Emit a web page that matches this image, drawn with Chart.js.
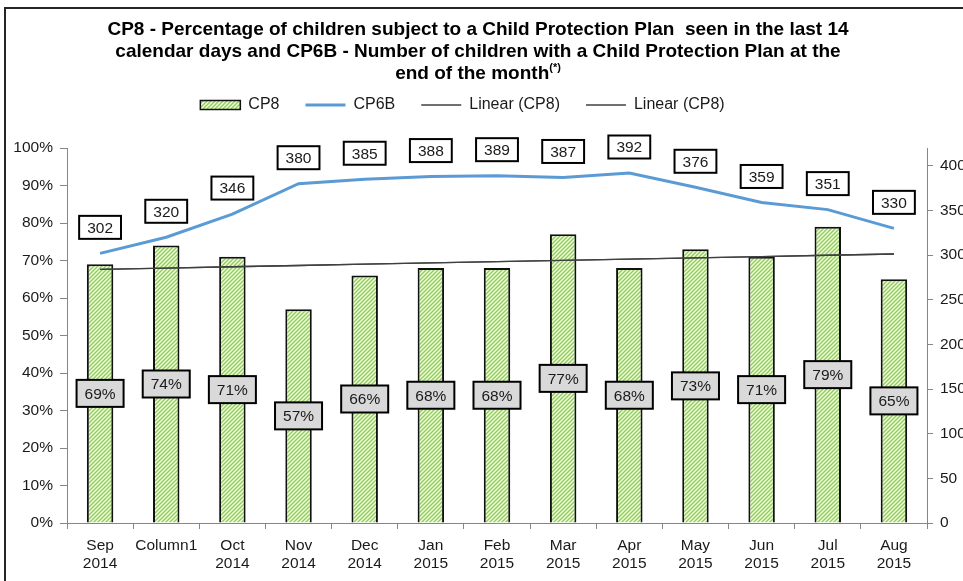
<!DOCTYPE html>
<html>
<head>
<meta charset="utf-8">
<title>CP8 / CP6B</title>
<script src="https://cdn.jsdelivr.net/npm/chart.js@4.4.1/dist/chart.umd.min.js"></script>
<style>
  html, body { margin: 0; padding: 0; background: #fff; }
  #wrap { width: 963px; height: 581px; }
</style>
</head>
<body>
<div id="wrap"><canvas id="chart" width="963" height="581"></canvas></div>
<script>
// ── Data ──────────────────────────────────────────────────────────────────────

const TITLE_LINES = [
  "CP8 - Percentage of children subject to a Child Protection Plan  seen in the last 14",
  "calendar days and CP6B - Number of children with a Child Protection Plan at the",
  "end of the month",
];
const TITLE_NOTE = "(*)";

// "Column1" is a stray header that ended up as a category in the sheet
const MONTHS = [
  ["Sep", "2014"], "Column1", ["Oct", "2014"], ["Nov", "2014"], ["Dec", "2014"],
  ["Jan", "2015"], ["Feb", "2015"], ["Mar", "2015"], ["Apr", "2015"],
  ["May", "2015"], ["Jun", "2015"], ["Jul", "2015"], ["Aug", "2015"],
];

// CP8: % seen in the last 14 days (left axis)
const CP8 = [69, 74, 71, 57, 66, 68, 68, 77, 68, 73, 71, 79, 65];

// CP6B: number of children on a plan at month end (right axis)
const CP6B = [302, 320, 346, 380, 385, 388, 389, 387, 392, 376, 359, 351, 330];

const PCT_AXIS   = { min: 0, max: 100, step: 10 };
const COUNT_AXIS = { min: 0, max: 420, step: 50 };

const FONT = '"Liberation Sans", Arial, sans-serif';
const TEXT = "#1a1a1a";
const AXIS = "#868686";


// ── Helpers ───────────────────────────────────────────────────────────────────

// Green diagonal hatch used for the CP8 columns
function hatch() {
  const c = document.createElement("canvas");
  c.width = c.height = 4;
  const g = c.getContext("2d");
  g.fillStyle = "#f4fbec";
  g.fillRect(0, 0, 4, 4);
  g.strokeStyle = "#8fcf4f";
  g.lineWidth = 1.4;
  g.beginPath();
  g.moveTo(0, 4);  g.lineTo(4, 0);
  g.moveTo(-1, 1); g.lineTo(1, -1);
  g.moveTo(3, 5);  g.lineTo(5, 3);
  g.stroke();
  return g.createPattern(c, "repeat");
}

// Least-squares straight line through the series (Excel "Linear" trendline)
function linearTrend(ys) {
  const n = ys.length;
  const mx = (n - 1) / 2;
  const my = ys.reduce((a, b) => a + b, 0) / n;
  let sxy = 0, sxx = 0;
  ys.forEach((y, i) => { sxy += (i - mx) * (y - my); sxx += (i - mx) ** 2; });
  const slope = sxy / sxx;
  return ys.map((_, i) => my + slope * (i - mx));
}

function labelBox(ctx, x, y, text, fill, h) {
  const w = ctx.measureText(text).width + 16;
  ctx.fillStyle = fill;
  ctx.fillRect(x - w / 2, y - h / 2, w, h);
  ctx.lineWidth = 2;
  ctx.strokeStyle = "#000";
  ctx.strokeRect(x - w / 2, y - h / 2, w, h);
  ctx.fillStyle = TEXT;
  ctx.fillText(text, x, y + 1);
}


// ── Plugins ───────────────────────────────────────────────────────────────────

// White page, frame, and the three-line title with its superscript note
const frame = {
  id: "frame",
  beforeDraw(chart) {
    const ctx = chart.ctx;
    ctx.save();
    ctx.fillStyle = "#fff";
    ctx.fillRect(0, 0, chart.width, chart.height);
    ctx.lineWidth = 2;
    ctx.strokeStyle = "#262626";
    ctx.strokeRect(5, 8, chart.width + 20, chart.height + 20);
    ctx.restore();
  },
  afterDraw(chart) {
    const ctx = chart.ctx;
    const cx = 478;
    ctx.save();
    ctx.fillStyle = "#000";
    ctx.textBaseline = "middle";
    ctx.font = "bold 19px " + FONT;
    ctx.textAlign = "center";
    ctx.fillText(TITLE_LINES[0], cx, 30);
    ctx.fillText(TITLE_LINES[1], cx, 52);

    const w = ctx.measureText(TITLE_LINES[2]).width;
    ctx.font = "bold 11px " + FONT;
    const wn = ctx.measureText(TITLE_NOTE).width;
    const x0 = cx - (w + wn) / 2;
    ctx.textAlign = "left";
    ctx.font = "bold 19px " + FONT;
    ctx.fillText(TITLE_LINES[2], x0, 74);
    ctx.font = "bold 11px " + FONT;
    ctx.fillText(TITLE_NOTE, x0 + w, 68);
    ctx.restore();
  },
};

// Legend spacing: extra room under the legend, and nudge it a bit left
const legendSpacing = {
  id: "legendSpacing",
  beforeInit(chart) {
    const fit = chart.legend.fit;
    chart.legend.fit = function () {
      fit.call(this);
      this.height += 25;
    };
  },
  afterLayout(chart) {
    chart.legend.left -= 19;
    chart.legend.right -= 19;
  },
};

// Boxed value labels: grey in the middle of each column, white above the line
const valueBoxes = {
  id: "valueBoxes",
  afterDatasetsDraw(chart) {
    const ctx = chart.ctx;
    ctx.save();
    ctx.font = "15.5px " + FONT;
    ctx.textAlign = "center";
    ctx.textBaseline = "middle";
    chart.getDatasetMeta(0).data.forEach((bar, i) => {
      labelBox(ctx, bar.x, (bar.y + bar.base) / 2, CP8[i] + "%", "#d9d9d9", 27);
    });
    chart.getDatasetMeta(1).data.forEach((pt, i) => {
      labelBox(ctx, pt.x, pt.y - 26, String(CP6B[i]), "#ffffff", 23);
    });
    ctx.restore();
  },
};


// ── Chart ─────────────────────────────────────────────────────────────────────

const trend = linearTrend(CP8);
const tickFont = { family: FONT, size: 15.5 };

new Chart(document.getElementById("chart"), {
  data: {
    labels: MONTHS,
    datasets: [
      {
        type: "bar",
        label: "CP8",
        data: CP8,
        yAxisID: "y",
        backgroundColor: hatch(),
        borderColor: "#111",
        borderWidth: 2,
        barPercentage: 0.4,
        categoryPercentage: 1,
        order: 3,
      },
      {
        type: "line",
        label: "CP6B",
        data: CP6B,
        yAxisID: "y1",
        borderColor: "#5b9bd5",
        borderWidth: 3,
        pointRadius: 0,
        tension: 0,
        order: 0,
      },
      {
        type: "line",
        label: "Linear (CP8)",
        data: trend,
        yAxisID: "y",
        borderColor: "#404040",
        borderWidth: 1.3,
        pointRadius: 0,
        order: 1,
      },
      {
        type: "line",
        label: "Linear (CP8)",
        data: trend,
        yAxisID: "y",
        borderColor: "#404040",
        borderWidth: 1.3,
        pointRadius: 0,
        order: 2,
      },
    ],
  },
  options: {
    responsive: false,
    animation: false,
    devicePixelRatio: 1,
    layout: { padding: { top: 71, left: 0, right: 0, bottom: 0 } },
    plugins: {
      tooltip: { enabled: false },
      title: { display: false },
      legend: {
        position: "top",
        labels: {
          usePointStyle: true,
          pointStyleWidth: 40,
          boxHeight: 9,
          padding: 26,
          color: TEXT,
          font: { family: FONT, size: 16 },
          sort: (a, b) => a.datasetIndex - b.datasetIndex,
          generateLabels(chart) {
            const items = Chart.defaults.plugins.legend.labels.generateLabels(chart);
            items.forEach(item => {
              const ds = chart.data.datasets[item.datasetIndex];
              if (ds.type === "bar") {
                item.pointStyle = "rect";
                item.lineWidth = 1.5;
                item.strokeStyle = "#111";
              } else {
                item.pointStyle = "line";
                item.lineWidth = ds.borderWidth;
              }
            });
            return items;
          },
        },
      },
    },
    scales: {
      x: {
        grid: { drawOnChartArea: false, offset: true, tickLength: 6, color: AXIS },
        border: { color: AXIS },
        ticks: { color: TEXT, font: tickFont, padding: 7, maxRotation: 0, autoSkip: false },
        afterFit(scale) { scale.height = 58; },
      },
      y: {
        position: "left",
        min: PCT_AXIS.min,
        max: PCT_AXIS.max,
        grid: { drawOnChartArea: false, tickLength: 7, color: AXIS },
        border: { color: AXIS },
        ticks: {
          stepSize: PCT_AXIS.step,
          color: TEXT,
          font: tickFont,
          padding: 7,
          callback: v => v + "%",
        },
        afterFit(scale) { scale.width = 67; },
      },
      y1: {
        position: "right",
        min: COUNT_AXIS.min,
        max: COUNT_AXIS.max,
        grid: { drawOnChartArea: false, tickLength: 6, color: AXIS },
        border: { color: AXIS },
        ticks: { stepSize: COUNT_AXIS.step, color: TEXT, font: tickFont, padding: 7 },
        afterBuildTicks(scale) {
          scale.ticks = scale.ticks.filter(t => t.value % COUNT_AXIS.step === 0);
        },
        afterFit(scale) { scale.width = 36; },
      },
    },
  },
  plugins: [frame, legendSpacing, valueBoxes],
});
</script>
</body>
</html>
